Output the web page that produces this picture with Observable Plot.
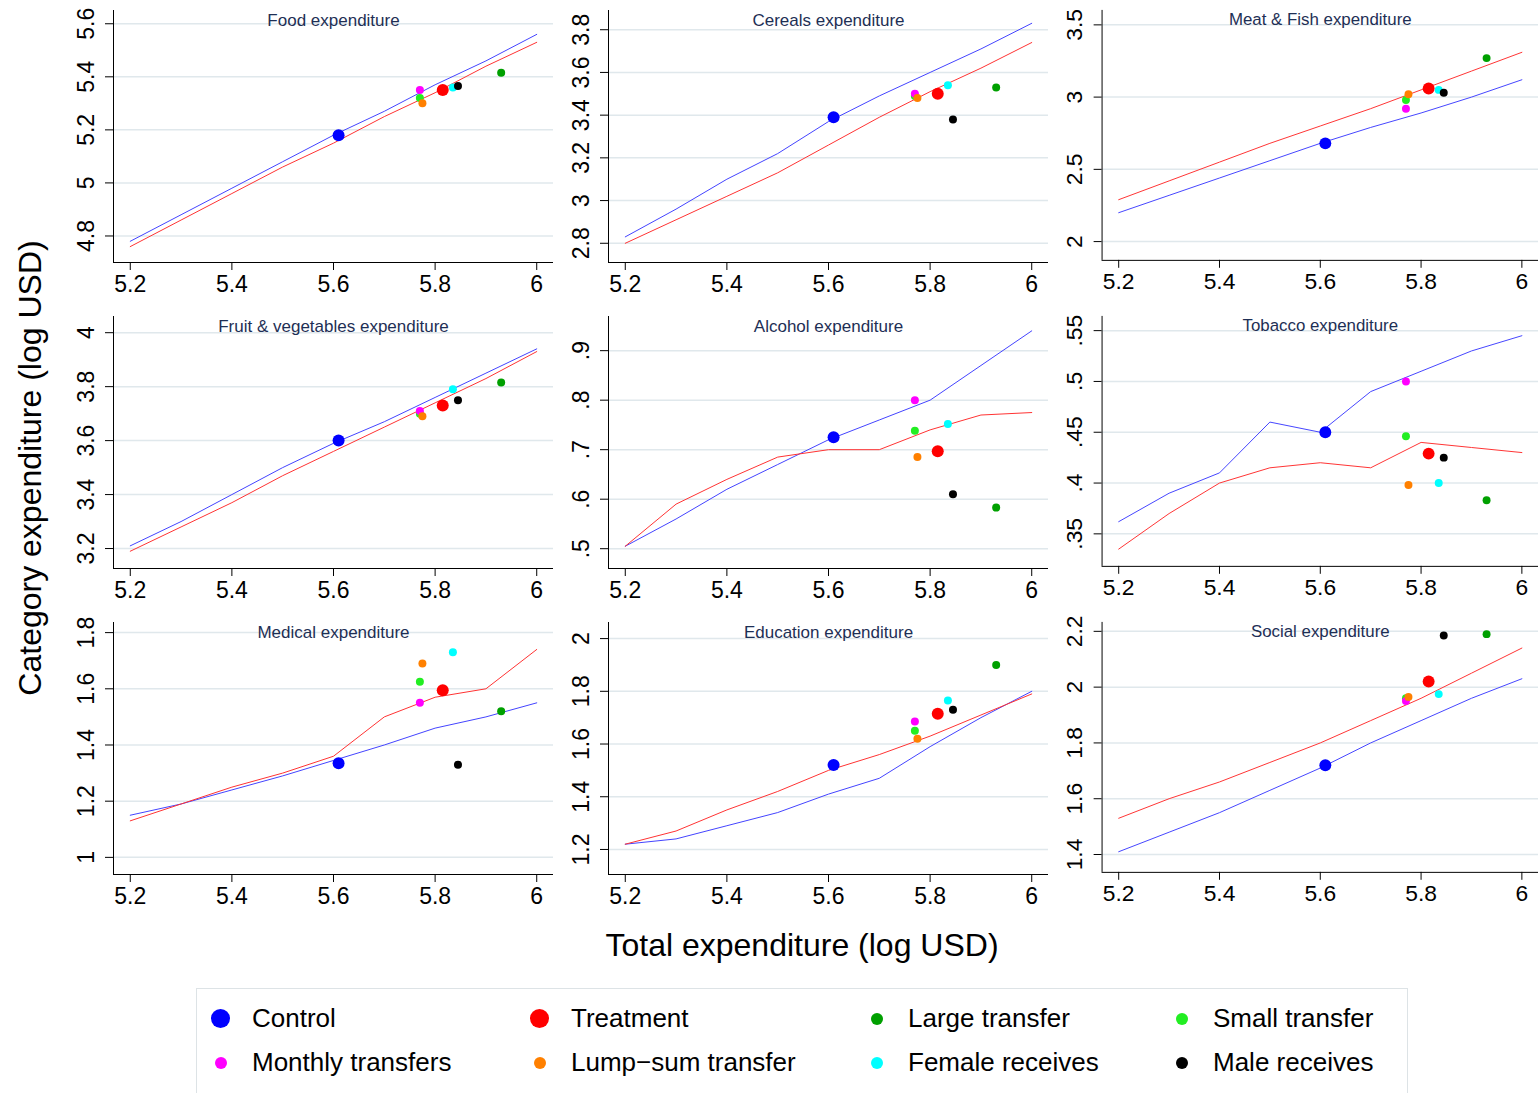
<!DOCTYPE html>
<html><head><meta charset="utf-8">
<script src="https://cdn.jsdelivr.net/npm/d3@7"></script>
<script src="https://cdn.jsdelivr.net/npm/@observablehq/plot@0.6"></script>
<style>
body{margin:0;background:#fff;font-family:"Liberation Sans",Arial,sans-serif;}
#wrap{position:relative;width:1539px;height:1093px;}
.panel{position:absolute;}
#ytitle{position:absolute;left:30px;top:468px;transform:translate(-50%,-50%) rotate(-90deg);font-size:32px;white-space:nowrap;}
#xtitle{position:absolute;left:802px;top:945px;transform:translate(-50%,-50%);font-size:32px;white-space:nowrap;}
#legend{position:absolute;left:196px;top:988px;width:1212px;height:110px;border:1px solid #dde3e6;box-sizing:border-box;}
.li{position:absolute;font-size:26px;display:flex;align-items:center;}
.li span.m{display:inline-block;border-radius:50%;}
</style></head>
<body><div id="wrap">
<div id="ytitle">Category expenditure (log USD)</div>
<div id="xtitle">Total expenditure (log USD)</div>
<div id="legend"></div>
</div>
<script>
// x grid of the curve samples
const lineX = [5.2, 5.3, 5.4, 5.5, 5.6, 5.7, 5.8, 5.9, 6.0];

const groups = ["Control", "Treatment", "Large transfer", "Small transfer",
  "Monthly transfers", "Lump\u2212sum transfer", "Female receives", "Male receives"];
const groupX = [5.61, 5.815, 5.93, 5.77, 5.77, 5.775, 5.835, 5.845];
const groupColor = ["#0000ff", "#ff0000", "#00a000", "#22ee22", "#ff00ff", "#ff8000", "#00ffff", "#000000"];
const groupR = [6, 6, 4, 4, 4, 4, 4, 4];

const titles = ["Food expenditure", "Cereals expenditure", "Meat & Fish expenditure",
  "Fruit & vegetables expenditure", "Alcohol expenditure", "Tobacco expenditure",
  "Medical expenditure", "Education expenditure", "Social expenditure"];

const yDomains = [[4.70, 5.65], [2.71, 3.89], [1.87, 3.60],
  [3.126, 4.06], [0.46, 0.969], [0.318, 0.564],
  [0.939, 1.836], [1.105, 2.061], [1.336, 2.232]];

const yTicks = [[4.8, 5, 5.2, 5.4, 5.6], [2.8, 3, 3.2, 3.4, 3.6, 3.8], [2, 2.5, 3, 3.5],
  [3.2, 3.4, 3.6, 3.8, 4], [0.5, 0.6, 0.7, 0.8, 0.9], [0.35, 0.4, 0.45, 0.5, 0.55],
  [1, 1.2, 1.4, 1.6, 1.8], [1.2, 1.4, 1.6, 1.8, 2], [1.4, 1.6, 1.8, 2, 2.2]];

const controlCurve = [
  [4.78, 4.88, 4.98, 5.08, 5.18, 5.27, 5.37, 5.46, 5.56],
  [2.83, 2.96, 3.10, 3.22, 3.37, 3.49, 3.60, 3.71, 3.83],
  [2.20, 2.32, 2.44, 2.56, 2.68, 2.79, 2.89, 3.00, 3.12],
  [3.21, 3.30, 3.40, 3.50, 3.59, 3.67, 3.76, 3.85, 3.94],
  [0.505, 0.56, 0.62, 0.67, 0.72, 0.76, 0.80, 0.87, 0.94],
  [0.362, 0.39, 0.41, 0.46, 0.45, 0.49, 0.51, 0.53, 0.545],
  [1.15, 1.19, 1.24, 1.29, 1.345, 1.40, 1.46, 1.50, 1.55],
  [1.22, 1.24, 1.29, 1.34, 1.41, 1.47, 1.59, 1.70, 1.80],
  [1.41, 1.48, 1.55, 1.63, 1.71, 1.80, 1.88, 1.96, 2.03]];

const treatCurve = [
  [4.76, 4.86, 4.96, 5.06, 5.15, 5.25, 5.34, 5.44, 5.53],
  [2.80, 2.91, 3.02, 3.13, 3.26, 3.39, 3.51, 3.62, 3.74],
  [2.29, 2.42, 2.55, 2.68, 2.80, 2.92, 3.05, 3.18, 3.31],
  [3.19, 3.28, 3.37, 3.47, 3.56, 3.65, 3.74, 3.83, 3.93],
  [0.505, 0.59, 0.64, 0.685, 0.70, 0.70, 0.74, 0.77, 0.775],
  [0.335, 0.37, 0.40, 0.415, 0.42, 0.415, 0.44, 0.435, 0.43],
  [1.13, 1.19, 1.25, 1.30, 1.36, 1.50, 1.57, 1.60, 1.74],
  [1.22, 1.27, 1.35, 1.42, 1.50, 1.56, 1.63, 1.71, 1.79],
  [1.53, 1.60, 1.66, 1.73, 1.80, 1.88, 1.96, 2.05, 2.14]];

const groupY = [
  [5.18, 5.35, 5.415, 5.32, 5.35, 5.30, 5.36, 5.365],
  [3.39, 3.50, 3.53, 3.49, 3.50, 3.48, 3.54, 3.38],
  [2.68, 3.06, 3.27, 2.98, 2.92, 3.02, 3.05, 3.03],
  [3.60, 3.73, 3.815, 3.70, 3.71, 3.69, 3.79, 3.75],
  [0.725, 0.697, 0.583, 0.738, 0.80, 0.685, 0.752, 0.61],
  [0.45, 0.429, 0.383, 0.446, 0.50, 0.398, 0.40, 0.425],
  [1.335, 1.595, 1.52, 1.625, 1.55, 1.69, 1.73, 1.33],
  [1.52, 1.715, 1.90, 1.65, 1.685, 1.62, 1.765, 1.73],
  [1.72, 2.02, 2.19, 1.96, 1.95, 1.965, 1.975, 2.185]];

const xTicks = [5.2, 5.4, 5.6, 5.8, 6];
const xDomain = [5.167, 6.033];
const fmtDot = v => v < 1 ? String(v).replace(/^0/, "") : String(v);

const wrap = document.getElementById("wrap");
titles.forEach((t, i) => {
  const col = i % 3, row = Math.floor(i / 3);
  const pts = groups.map((g, k) => ({x: groupX[k], y: groupY[i][k], c: groupColor[k], r: groupR[k]}));
  const ctl = lineX.map((x, k) => ({x, y: controlCurve[i][k]}));
  const trt = lineX.map((x, k) => ({x, y: treatCurve[i][k]}));
  const chart = Plot.plot({
    width: 494, height: 306,
    marginLeft: 53, marginRight: 1, marginTop: 10, marginBottom: 44,
    style: {fontFamily: "Liberation Sans, Arial, sans-serif", fontSize: "23px", overflow: "visible"},
    x: {domain: xDomain},
    y: {domain: yDomains[i]},
    r: {type: "identity"},
    marks: [
      Plot.gridY(yTicks[i], {stroke: "#e0e8ec", strokeOpacity: 1, strokeWidth: 1.5}),
      Plot.axisX(xTicks, {tickSize: 8, tickPadding: 5, fontSize: 23, label: null, tickFormat: d => String(d)}),
      Plot.axisY(yTicks[i], {tickSize: 8, tickPadding: 12, tickRotate: -90, fontSize: 23,
        tickFormat: fmtDot, label: null}),
      Plot.ruleX([xDomain[0]], {stroke: "#000"}),
      Plot.ruleY([yDomains[i][0]], {stroke: "#000"}),
      Plot.line(ctl, {x: "x", y: "y", stroke: "#4444ff", strokeWidth: 1}),
      Plot.line(trt, {x: "x", y: "y", stroke: "#ff3333", strokeWidth: 1}),
      Plot.dot(pts, {x: "x", y: "y", fill: "c", r: "r"}),
      Plot.text([t], {frameAnchor: "top", dy: 3, fontSize: 17, fill: "#1e2f55"})
    ]
  });
  const d = document.createElement("div");
  d.className = "panel";
  d.style.left = (60 + col * 494.5) + "px";
  d.style.top = (row * 306) + "px";
  d.appendChild(chart);
  wrap.appendChild(d);
});
const leg = document.getElementById("legend");
const legX = [14, 333, 670, 975];
groups.forEach((g, k) => {
  const el = document.createElement("div");
  el.className = "li";
  el.style.left = legX[k % 4] + "px";
  el.style.top = (k < 4 ? 14 : 58) + "px";
  const s = k < 2 ? 19 : 12;
  el.innerHTML = `<span class="m" style="width:${s}px;height:${s}px;background:${groupColor[k]};margin-left:${(19 - s) / 2}px;margin-right:${22 + (19 - s) / 2}px"></span>${g}`;
  leg.appendChild(el);
});
</script>
</body></html>
